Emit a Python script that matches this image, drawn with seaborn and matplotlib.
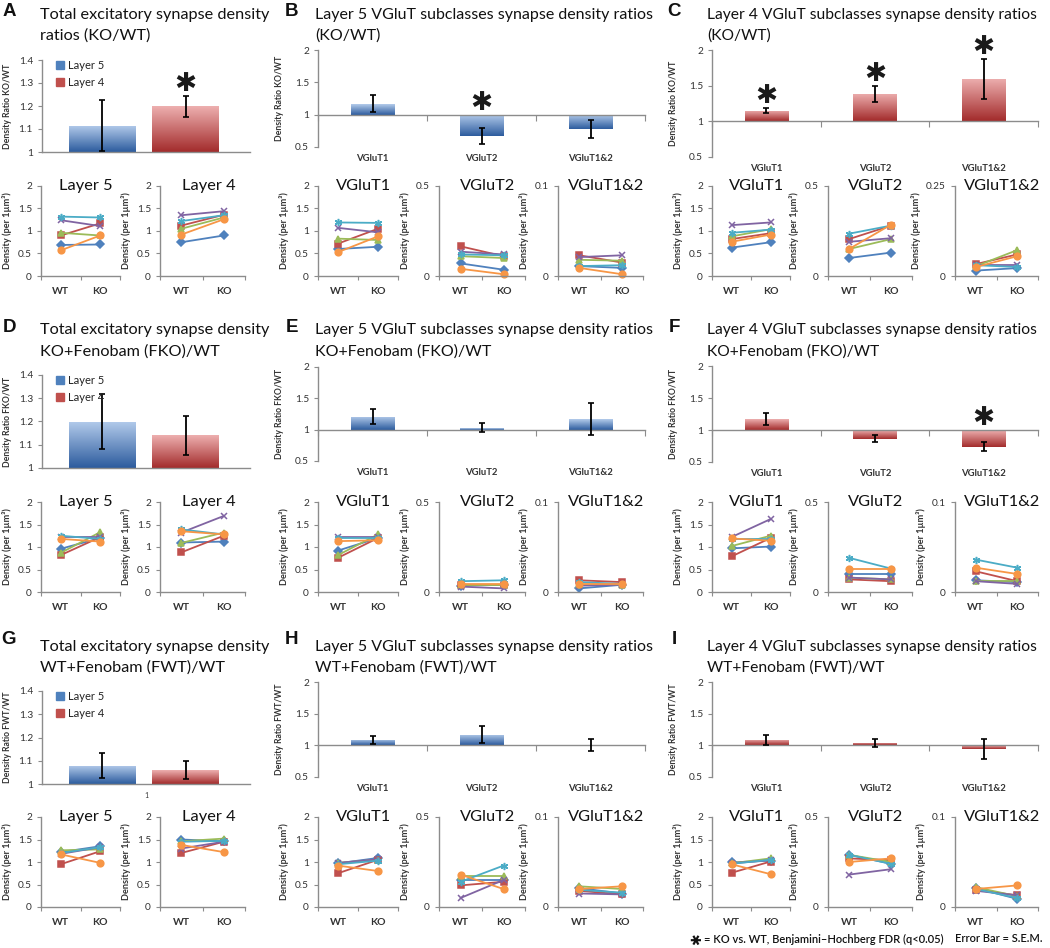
import numpy as np
import pandas as pd
import matplotlib
matplotlib.use("Agg")
import matplotlib.pyplot as plt
from matplotlib.colors import LinearSegmentedColormap
from matplotlib.lines import Line2D
import seaborn as sns

# ---------------------------------------------------------------- data
pairs = ["Pair 1", "Pair 2", "Pair 3", "Pair 4", "Pair 5", "Pair 6"]
conditions = ["WT", "KO"]
layers = ["Layer 5", "Layer 4"]
subclasses = ["VGluT1", "VGluT2", "VGluT1&2"]

# ratio bars (mean, SEM)
A_ratio = [1.115, 1.198]; A_sem = [0.110, 0.046]; A_star = [False, True]
B_ratio = [1.17, 0.67, 0.78]; B_sem = [0.135, 0.12, 0.135]; B_star = [False, True, False]
C_ratio = [1.15, 1.38, 1.60]; C_sem = [0.035, 0.115, 0.28]; C_star = [True, True, True]
D_ratio = [1.20, 1.14]; D_sem = [0.117, 0.085]; D_star = [False, False]
E_ratio = [1.21, 1.03, 1.17]; E_sem = [0.125, 0.07, 0.26]; E_star = [False, False, False]
F_ratio = [1.17, 0.86, 0.74]; F_sem = [0.095, 0.055, 0.07]; F_star = [False, False, True]
G_ratio = [1.078, 1.06]; G_sem = [0.054, 0.038]; G_star = [False, False]
H_ratio = [1.08, 1.17, 1.00]; H_sem = [0.065, 0.14, 0.095]; H_star = [False, False, False]
I_ratio = [1.08, 1.04, 0.94]; I_sem = [0.08, 0.06, 0.16]; I_star = [False, False, False]

# paired densities, order of pairs: blue, red, green, purple, cyan, orange
A_L5_wt = [0.69, 0.90, 0.96, 1.24, 1.32, 0.57]; A_L5_ko = [0.70, 1.17, 0.90, 1.11, 1.30, 0.90]
A_L4_wt = [0.75, 1.12, 1.05, 1.35, 1.22, 0.92]; A_L4_ko = [0.90, 1.36, 1.30, 1.44, 1.35, 1.26]
B_V1_wt = [0.60, 0.72, 0.83, 1.07, 1.19, 0.53]; B_V1_ko = [0.65, 1.05, 0.80, 0.97, 1.18, 0.88]
B_V2_wt = [0.07, 0.165, 0.11, 0.135, 0.12, 0.04]; B_V2_ko = [0.035, 0.11, 0.10, 0.12, 0.115, 0.01]
B_V12_wt = [0.011, 0.023, 0.018, 0.021, 0.011, 0.009]; B_V12_ko = [0.009, 0.015, 0.017, 0.023, 0.012, 0.002]
C_V1_wt = [0.63, 0.82, 0.88, 1.13, 0.96, 0.76]; C_V1_ko = [0.75, 0.95, 1.04, 1.19, 1.03, 0.92]
C_V2_wt = [0.10, 0.205, 0.15, 0.19, 0.235, 0.15]; C_V2_ko = [0.13, 0.28, 0.205, 0.21, 0.28, 0.285]
C_V12_wt = [0.015, 0.033, 0.027, 0.030, 0.030, 0.025]; C_V12_ko = [0.022, 0.060, 0.072, 0.030, 0.025, 0.055]
D_L5_wt = [0.96, 0.82, 0.87, 1.23, 1.25, 1.18]; D_L5_ko = [1.20, 1.22, 1.33, 1.23, 1.18, 1.12]
D_L4_wt = [1.10, 0.88, 1.09, 1.32, 1.39, 1.35]; D_L4_ko = [1.12, 1.25, 1.32, 1.69, 1.28, 1.28]
E_V1_wt = [0.92, 0.76, 0.82, 1.22, 1.20, 1.13]; E_V1_ko = [1.20, 1.20, 1.28, 1.22, 1.20, 1.15]
E_V2_wt = [0.035, 0.040, 0.040, 0.030, 0.060, 0.045]; E_V2_ko = [0.040, 0.040, 0.040, 0.020, 0.065, 0.045]
E_V12_wt = [0.004, 0.013, 0.008, 0.007, 0.011, 0.009]; E_V12_ko = [0.008, 0.011, 0.008, 0.008, 0.009, 0.009]
F_V1_wt = [0.97, 0.79, 1.02, 1.22, 1.17, 1.19]; F_V1_ko = [1.01, 1.20, 1.25, 1.62, 1.17, 1.14]
F_V2_wt = [0.10, 0.07, 0.08, 0.08, 0.19, 0.13]; F_V2_ko = [0.10, 0.06, 0.07, 0.07, 0.13, 0.13]
F_V12_wt = [0.013, 0.023, 0.012, 0.012, 0.036, 0.027]; F_V12_ko = [0.011, 0.012, 0.012, 0.009, 0.027, 0.020]
G_L5_wt = [1.22, 0.95, 1.26, 1.18, 1.20, 1.17]; G_L5_ko = [1.35, 1.24, 1.28, 1.33, 1.33, 0.98]
G_L4_wt = [1.50, 1.20, 1.46, 1.30, 1.45, 1.38]; G_L4_ko = [1.46, 1.45, 1.52, 1.45, 1.47, 1.22]
H_V1_wt = [0.97, 0.75, 0.98, 0.98, 0.95, 0.92]; H_V1_ko = [1.09, 1.05, 1.05, 1.06, 1.03, 0.80]
H_V2_wt = [0.15, 0.12, 0.17, 0.05, 0.14, 0.18]; H_V2_ko = [0.15, 0.14, 0.17, 0.15, 0.23, 0.10]
H_V12_wt = [0.021, 0.018, 0.023, 0.015, 0.019, 0.020]; H_V12_ko = [0.015, 0.014, 0.020, 0.014, 0.016, 0.023]
I_V1_wt = [0.99, 0.76, 0.97, 0.97, 0.96, 0.95]; I_V1_ko = [1.03, 1.01, 1.08, 1.04, 1.05, 0.73]
I_V2_wt = [0.29, 0.27, 0.29, 0.18, 0.29, 0.25]; I_V2_ko = [0.24, 0.26, 0.25, 0.21, 0.24, 0.27]
I_V12_wt = [0.021, 0.019, 0.022, 0.018, 0.020, 0.020]; I_V12_ko = [0.009, 0.013, 0.012, 0.013, 0.010, 0.024]

# ---------------------------------------------------------------- style
sns.set_theme(style="white")
plt.rcParams["font.family"] = ["Lato", "DejaVu Sans"]

PAL = dict(zip(pairs, ["#4F81BD", "#C0504D", "#9BBB59", "#8064A2", "#4BACC6", "#F79646"]))
MARKERS = dict(zip(pairs, ["D", "s", "^", "x", (6, 2, 0), "o"]))
MSIZE = dict(zip(pairs, [3.6, 4.6, 4.8, 4.8, 5.2, 4.8]))
BLUE, RED = "#4F81BD", "#C0504D"
BLUE_GRAD = ("#B3CBEB", "#2D5C9E")
RED_GRAD = ("#EDAFAF", "#A32C2C")
SPINE = "#8c8c8c"
TICKC = "#333333"

W, H = 1050, 948
fig = plt.figure(figsize=(W / 100, H / 100), dpi=100)
renderer = fig.canvas.get_renderer()


def px_axes(x0, x1, y0, y1):
    return fig.add_axes([x0 / W, 1 - y1 / H, (x1 - x0) / W, (y1 - y0) / H])


def ftext(x, y, s, **kw):
    return fig.text(x / W, 1 - y / H, s, **kw)


def fit_width(t, target_px):
    """Scale a text's font size so that its rendered width matches target_px."""
    w = t.get_window_extent(renderer).width
    fs = t.get_fontsize() * target_px / w
    t.set_fontsize(fs)
    return fs


def style_common(ax):
    for s in ["top", "right"]:
        ax.spines[s].set_visible(False)
    for s in ["left", "bottom"]:
        ax.spines[s].set_color(SPINE)
        ax.spines[s].set_linewidth(1.0)
    ax.tick_params(axis="both", which="both", direction="out", color=SPINE,
                   labelcolor=TICKC, labelsize=7.3, width=0.8, length=3, left=True, bottom=True)
    ax.set_facecolor("none")
    ax.grid(False)


def gradient_fill(ax, grads):
    grad = np.linspace(0, 1, 100).reshape(-1, 1)
    for p, (top, bot) in zip(list(ax.patches), grads):
        x, y, w, h = p.get_x(), p.get_y(), p.get_width(), p.get_height()
        y0, y1 = sorted([y, y + h])
        cmap = LinearSegmentedColormap.from_list("g", [bot, top])
        im = ax.imshow(grad, cmap=cmap, origin="lower", aspect="auto",
                       extent=[x, x + w, y0, y1], zorder=2, interpolation="bilinear")
        im.set_clip_path(p)
        p.set_facecolor("none")
        p.set_edgecolor("none")


def add_errors_and_stars(ax, ratio, sem, stars):
    ax.errorbar(range(len(ratio)), ratio, yerr=sem, fmt="none", ecolor="black",
                elinewidth=1.3, capsize=2.2, capthick=1.2, zorder=5)
    for i, (r, s, st) in enumerate(zip(ratio, sem, stars)):
        if st:
            ax.annotate("\u2731", xy=(i, max(r + s, 1.0)), xytext=(0, 8.5),
                        textcoords="offset points", ha="center", va="center",
                        fontsize=19, family="DejaVu Sans", color="#1a1a1a", zorder=6)


def total_bar(ax, ratio, sem, stars, ylabel, show_one=False):
    dev = [r - 1 for r in ratio]
    sns.barplot(x=layers, y=dev, hue=layers, palette=[BLUE, RED], width=0.8,
                bottom=1, legend=False, errorbar=None, ax=ax)
    gradient_fill(ax, [BLUE_GRAD, RED_GRAD])
    add_errors_and_stars(ax, ratio, sem, stars)
    style_common(ax)
    ax.set_xlim(-0.725, 1.775)
    ax.set_ylim(1, 1.4)
    ax.set_yticks([1, 1.1, 1.2, 1.3, 1.4])
    ax.set_yticklabels(["1", "1.1", "1.2", "1.3", "1.4"])
    ax.set_xticks([])
    ax.set_xlabel("")
    ax.set_ylabel(ylabel, fontsize=6.2, fontweight="bold", color=TICKC, labelpad=5)
    handles = [Line2D([0], [0], marker="s", ls="", color=c, markersize=5.2) for c in (BLUE, RED)]
    ax.legend(handles, layers, loc="upper left", bbox_to_anchor=(0.04, 1.05), frameon=False,
              fontsize=8.0, handletextpad=0.25, labelspacing=0.55, handlelength=0.9,
              borderaxespad=0, labelcolor="#222222")
    if show_one:
        ax.annotate("1", xy=(0.5, 0), xycoords="axes fraction", xytext=(0, -8),
                    textcoords="offset points", ha="center", va="center", fontsize=5, color=TICKC)


def sub_bar(ax, ratio, sem, stars, grad, color, ylabel):
    dev = [r - 1 for r in ratio]
    sns.barplot(x=subclasses, y=dev, color=color, width=0.4, bottom=1, errorbar=None, ax=ax)
    gradient_fill(ax, [grad] * len(ratio))
    add_errors_and_stars(ax, ratio, sem, stars)
    style_common(ax)
    ax.set_xlim(-0.5, 2.5)
    ax.set_ylim(0.5, 2)
    ax.spines["bottom"].set_position(("data", 1))
    ax.set_yticks([0.5, 1, 1.5, 2])
    ax.set_yticklabels(["0.5", "1", "1.5", "2"])
    ax.set_xticks([])
    ax.set_xticks([-0.5, 0.5, 1.5, 2.5], minor=True)
    ax.tick_params(axis="x", which="minor", length=4)
    ax.set_xlabel("")
    ax.set_ylabel(ylabel, fontsize=6.2, fontweight="bold", color=TICKC, labelpad=8)
    for i, c in enumerate(subclasses):
        ax.annotate(c, xy=(i, 0), xycoords=ax.get_xaxis_transform(), xytext=(0, -8),
                    textcoords="offset points", ha="center", va="center",
                    fontsize=6.8, fontweight="bold", color=TICKC)


YTICKS = {2: ([0, 0.5, 1, 1.5, 2], ["0", "0.5", "1", "1.5", "2"]),
          0.5: ([0, 0.5], ["0", "0.5"]),
          0.25: ([0, 0.25], ["0", "0.25"]),
          0.1: ([0, 0.1], ["0", "0.1"])}


def line_panel(ax, wt, ko, ymax, title):
    df = pd.DataFrame({"condition": [0] * len(wt) + [1] * len(ko),
                       "density": list(wt) + list(ko),
                       "pair": pairs + pairs})
    sns.lineplot(data=df, x="condition", y="density", hue="pair",
                 hue_order=pairs, palette=PAL, marker="o",
                 legend=False, estimator=None, errorbar=None,
                 linewidth=1.3, ax=ax)
    for ln, p in zip(ax.lines, pairs):
        c = PAL[p]
        ln.set_marker(MARKERS[p])
        ln.set_markeredgecolor(c)
        ln.set_markerfacecolor(c)
        ln.set_markersize(MSIZE[p])
        ln.set_markeredgewidth(1.1)
        ln.set_clip_on(False)
    style_common(ax)
    ax.set_xlim(-0.5, 1.5)
    ax.set_ylim(0, ymax)
    t, l = YTICKS[ymax]
    ax.set_yticks(t)
    ax.set_yticklabels(l)
    ax.set_xticks([0, 1])
    ax.set_xticklabels(conditions, fontweight="bold", fontsize=7.5)
    ax.set_xticks([-0.5, 0.5, 1.5], minor=True)
    ax.tick_params(axis="x", which="major", length=0, pad=8)
    ax.tick_params(axis="x", which="minor", length=3)
    ax.set_xlabel("")
    ax.set_ylabel("Density (per 1\u00b5m\u00b3)", fontsize=6.6, fontweight="bold",
                  color=TICKC, labelpad=4)
    ax.text(0.57, 1.0, title, transform=ax.transAxes, ha="center", va="center",
            fontsize=11.8, color="#111111")


# ---------------------------------------------------------------- layout
rows = [
    dict(letters=("A", "B", "C"), ly=12, t1=15, t2=36,
         bar_y=[(60, 152), (50, 147), (50, 157)], line_y=(186, 276)),
    dict(letters=("D", "E", "F"), ly=327, t1=330, t2=352,
         bar_y=[(375, 468), (367, 461), (366, 462)], line_y=(502, 592)),
    dict(letters=("G", "H", "I"), ly=640, t1=647, t2=668,
         bar_y=[(691, 784), (682, 777), (682, 777)], line_y=(817, 907)),
]
titles = [
    [("Total excitatory synapse density", "ratios (KO/WT)"),
     ("Layer 5 VGluT subclasses synapse density ratios", "(KO/WT)"),
     ("Layer 4 VGluT subclasses synapse density ratios", "(KO/WT)")],
    [("Total excitatory synapse density", "KO+Fenobam (FKO)/WT"),
     ("Layer 5 VGluT subclasses synapse density ratios", "KO+Fenobam (FKO)/WT"),
     ("Layer 4 VGluT subclasses synapse density ratios", "KO+Fenobam (FKO)/WT")],
    [("Total excitatory synapse density", "WT+Fenobam (FWT)/WT"),
     ("Layer 5 VGluT subclasses synapse density ratios", "WT+Fenobam (FWT)/WT"),
     ("Layer 4 VGluT subclasses synapse density ratios", "WT+Fenobam (FWT)/WT")],
]
ylabels = ["Density Ratio KO/WT", "Density Ratio FKO/WT", "Density Ratio FWT/WT"]
letter_x = [9, 292, 674]
title_x = [40, 315, 707]
title_w = [230, 336, 330]
bar_x = [(42, 250), (318, 645), (712, 1038)]
line_x = [[(41, 120), (160, 245)],
          [(318, 398), (439, 525), (558, 643)],
          [(712, 790), (828, 912), (955, 1038)]]

bar_data = [
    [(A_ratio, A_sem, A_star), (B_ratio, B_sem, B_star), (C_ratio, C_sem, C_star)],
    [(D_ratio, D_sem, D_star), (E_ratio, E_sem, E_star), (F_ratio, F_sem, F_star)],
    [(G_ratio, G_sem, G_star), (H_ratio, H_sem, H_star), (I_ratio, I_sem, I_star)],
]
line_data = [
    [[(A_L5_wt, A_L5_ko, 2), (A_L4_wt, A_L4_ko, 2)],
     [(B_V1_wt, B_V1_ko, 2), (B_V2_wt, B_V2_ko, 0.5), (B_V12_wt, B_V12_ko, 0.1)],
     [(C_V1_wt, C_V1_ko, 2), (C_V2_wt, C_V2_ko, 0.5), (C_V12_wt, C_V12_ko, 0.25)]],
    [[(D_L5_wt, D_L5_ko, 2), (D_L4_wt, D_L4_ko, 2)],
     [(E_V1_wt, E_V1_ko, 2), (E_V2_wt, E_V2_ko, 0.5), (E_V12_wt, E_V12_ko, 0.1)],
     [(F_V1_wt, F_V1_ko, 2), (F_V2_wt, F_V2_ko, 0.5), (F_V12_wt, F_V12_ko, 0.1)]],
    [[(G_L5_wt, G_L5_ko, 2), (G_L4_wt, G_L4_ko, 2)],
     [(H_V1_wt, H_V1_ko, 2), (H_V2_wt, H_V2_ko, 0.5), (H_V12_wt, H_V12_ko, 0.1)],
     [(I_V1_wt, I_V1_ko, 2), (I_V2_wt, I_V2_ko, 0.5), (I_V12_wt, I_V12_ko, 0.1)]],
]

for r, row in enumerate(rows):
    for c in range(3):
        ftext(letter_x[c], row["ly"], row["letters"][c], fontsize=13.5, fontweight="bold",
              family=["Liberation Sans", "DejaVu Sans"], ha="center", va="center", color="#111111")
        t1 = ftext(title_x[c], row["t1"], titles[r][c][0], fontsize=12, ha="left", va="center", color="#111111")
        fs = fit_width(t1, title_w[c])
        ftext(title_x[c], row["t2"], titles[r][c][1], fontsize=fs, ha="left", va="center", color="#111111")

        y0, y1 = row["bar_y"][c]
        ax = px_axes(bar_x[c][0], bar_x[c][1], y0, y1)
        ratio, sem, star = bar_data[r][c]
        if c == 0:
            total_bar(ax, ratio, sem, star, ylabels[r], show_one=(r == 2))
        elif c == 1:
            sub_bar(ax, ratio, sem, star, BLUE_GRAD, BLUE, ylabels[r])
        else:
            sub_bar(ax, ratio, sem, star, RED_GRAD, RED, ylabels[r])

        ly0, ly1 = row["line_y"]
        names = layers if c == 0 else subclasses
        for k, (xa, xb) in enumerate(line_x[c]):
            lax = px_axes(xa, xb, ly0, ly1)
            wt, ko, ymax = line_data[r][c][k]
            line_panel(lax, wt, ko, ymax, names[k])

# footnote
ftext(697, 939, "\u2731", rotation=90, fontsize=10, family="DejaVu Sans", ha="center", va="center", color="#111111")
ftext(704, 939, "= KO vs. WT, Benjamini\u2013Hochberg FDR (q<0.05)", fontsize=8,
      fontweight="semibold", ha="left", va="center", color="#111111")
ftext(955, 939, "Error Bar = S.E.M.", fontsize=8, fontweight="semibold", ha="left", va="center", color="#111111")

fig.savefig("out.png", dpi=100, facecolor="white")
